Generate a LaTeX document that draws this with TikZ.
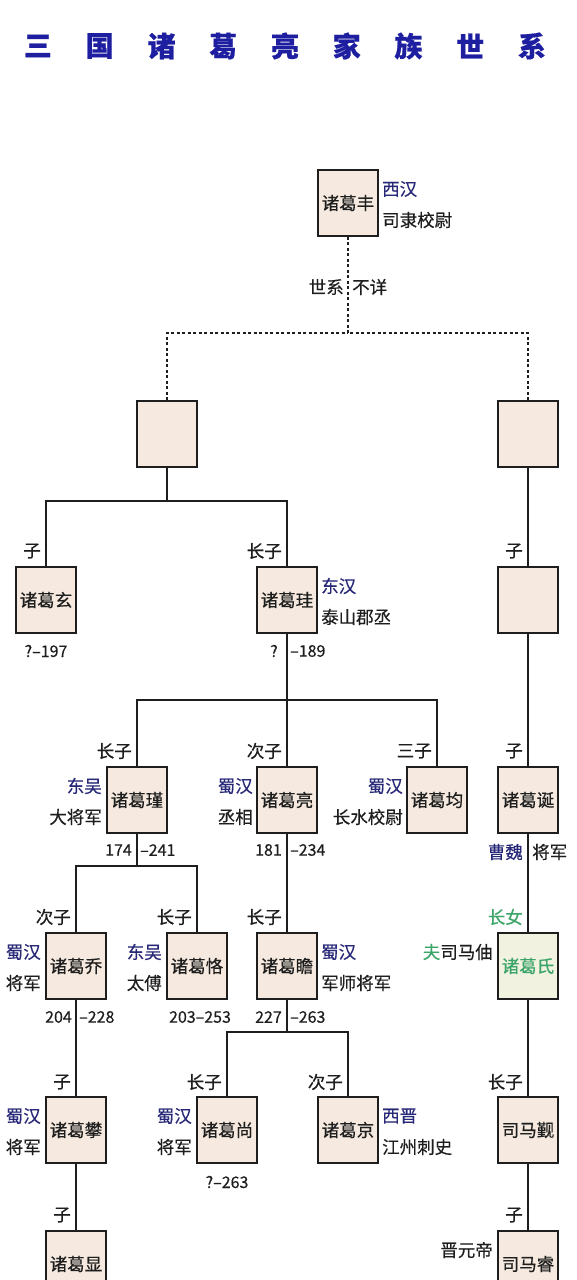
\documentclass[tikz,border=0pt]{standalone}
\usepackage{fontspec}
\newfontfamily\cjk[FakeBold=0.4]{Noto Sans CJK SC}
\usetikzlibrary{calc}
\definecolor{boxfill}{RGB}{246,234,224}
\definecolor{herfill}{RGB}{241,242,224}
\definecolor{lbl}{RGB}{40,40,120}
\definecolor{grn}{RGB}{60,165,105}
\definecolor{ttl}{RGB}{30,30,160}
\definecolor{ink}{RGB}{30,30,30}
\begin{document}
\begin{tikzpicture}[x=1pt,y=-1pt,
  person/.style={draw=ink, line width=1.7pt, fill=boxfill, minimum width=60pt, minimum height=66pt, inner sep=0pt, font=\cjk\fontsize{17.5}{20}\selectfont, text=ink},
  tag/.style={font=\cjk\fontsize{17.5}{20}\selectfont, text=ink, inner sep=0pt},
  dyn/.style={tag, text=lbl},
  num/.style={font=\cjk\fontsize{16}{18}\selectfont, text=ink, inner sep=0pt},
  link/.style={draw=ink, line width=1.6pt},
  dlink/.style={link, dash pattern=on 3pt off 2.5pt},
  ttlch/.style={font=\cjk\bfseries\fontsize{28}{30}\selectfont, text=ttl, inner sep=0pt}]
\useasboundingbox (0,0) rectangle (576,1280);
\clip (0,0) rectangle (576,1280);
\fill[white] (0,0) rectangle (576,1280);

% title
\foreach \c [count=\i from 0] in {三,国,诸,葛,亮,家,族,世,系}
  \node[ttlch] (t\i) at (38+\i*61.75,46) {\c};

% people
\node[person] (feng) at (348,203) {诸葛丰};
\node[person] (ua) at (167,434) {};
\node[person] (ub) at (528,434) {};
\node[person] (xuan) at (46,600) {诸葛玄};
\node[person] (gui) at (287,600) {诸葛珪};
\node[person] (uc) at (528,600) {};
\node[person] (jin) at (137,800) {诸葛瑾};
\node[person] (liang) at (287,800) {诸葛亮};
\node[person] (jun) at (437,800) {诸葛均};
\node[person] (dan) at (528,800) {诸葛诞};
\node[person] (qiao) at (76,966) {诸葛乔};
\node[person] (ke) at (197,966) {诸葛恪};
\node[person] (zhan) at (287,966) {诸葛瞻};
\node[person, fill=herfill, text=grn] (shi) at (528,966) {诸葛氏};
\node[person] (pan) at (76,1130) {诸葛攀};
\node[person] (shang) at (227,1130) {诸葛尚};
\node[person] (jing) at (348,1130) {诸葛京};
\node[person] (sjin) at (528,1130) {司马觐};
\node[person] (xian) at (76,1264) {诸葛显};
\node[person] (rui) at (528,1264) {司马睿};

% connectors
\coordinate (d0) at (348,333);
\draw[dlink] (feng.south) -- (d0);
\draw[dlink] (ua.north) |- (d0);
\draw[dlink] (ub.north) |- (d0);

\coordinate (b1) at (167,501);
\draw[link] (ua.south) -- (b1);
\draw[link] (xuan.north) |- (b1);
\draw[link] (gui.north) |- (b1);

\draw[link] (ub) -- (uc);
\draw[link] (uc) -- (dan);
\draw[link] (dan) -- (shi);
\draw[link] (shi) -- (sjin);
\draw[link] (sjin) -- (rui);

\coordinate (b2) at (287,700);
\draw[link] (gui.south) -- (b2);
\draw[link] (jin.north) |- (b2);
\draw[link] (liang.north) -- (b2);
\draw[link] (jun.north) |- (b2);

\coordinate (b3) at (137,866);
\draw[link] (jin.south) -- (b3);
\draw[link] (qiao.north) |- (b3);
\draw[link] (ke.north) |- (b3);

\draw[link] (liang) -- (zhan);

\coordinate (b4) at (287,1032);
\draw[link] (zhan.south) -- (b4);
\draw[link] (shang.north) |- (b4);
\draw[link] (jing.north) |- (b4);

\draw[link] (qiao) -- (pan);
\draw[link] (pan) -- (xian);

% lineage labels
\node[tag, anchor=east] (s1) at (344,287) {世系};
\node[tag, anchor=west] (s2) at (352,287) {不详};
\node[tag, anchor=east] (l1) at (41,551) {子};
\node[tag, anchor=east] (l2) at (282,551) {长子};
\node[tag, anchor=east] (l3) at (523,551) {子};
\node[tag, anchor=east] (l4) at (132,751) {长子};
\node[tag, anchor=east] (l5) at (282,751) {次子};
\node[tag, anchor=east] (l6) at (432,751) {三子};
\node[tag, anchor=east] (l7) at (523,751) {子};
\node[tag, anchor=east] (l8) at (71,917) {次子};
\node[tag, anchor=east] (l9) at (192,917) {长子};
\node[tag, anchor=east] (l10) at (282,917) {长子};
\node[tag, anchor=east, text=grn] (l11) at (523,917) {长女};
\node[tag, anchor=east] (l12) at (71,1082) {子};
\node[tag, anchor=east] (l13) at (222,1082) {长子};
\node[tag, anchor=east] (l14) at (343,1082) {次子};
\node[tag, anchor=east] (l15) at (523,1082) {长子};
\node[tag, anchor=east] (l16) at (71,1215) {子};
\node[tag, anchor=east] (l17) at (523,1215) {子};

% side labels
\node[dyn, anchor=west] (a1) at (382,189) {西汉};
\node[tag, anchor=west] (a2) at (382,220) {司隶校尉};
\node[dyn, anchor=west] (a3) at (321,586) {东汉};
\node[tag, anchor=west] (a4) at (321,617) {泰山郡丞};
\node[dyn, anchor=east] (a5) at (102,786) {东吴};
\node[tag, anchor=east] (a6) at (102,817) {大将军};
\node[dyn, anchor=east] (a7) at (253,786) {蜀汉};
\node[tag, anchor=east] (a8) at (253,817) {丞相};
\node[dyn, anchor=east] (a9) at (403,786) {蜀汉};
\node[tag, anchor=east] (a10) at (403,817) {长水校尉};
\node[dyn, anchor=east] (a11) at (41,952) {蜀汉};
\node[tag, anchor=east] (a12) at (41,983) {将军};
\node[dyn, anchor=east] (a13) at (162,952) {东吴};
\node[tag, anchor=east] (a14) at (162,983) {太傅};
\node[dyn, anchor=west] (a15) at (321,952) {蜀汉};
\node[tag, anchor=west] (a16) at (321,983) {军师将军};
\node[tag, anchor=east] (a17) at (493,952) {\textcolor{grn}{夫}司马伷};
\node[dyn, anchor=east] (a18) at (41,1116) {蜀汉};
\node[tag, anchor=east] (a19) at (41,1147) {将军};
\node[dyn, anchor=east] (a20) at (192,1116) {蜀汉};
\node[tag, anchor=east] (a21) at (192,1147) {将军};
\node[dyn, anchor=west] (a22) at (382,1116) {西晋};
\node[tag, anchor=west] (a23) at (382,1147) {江州刺史};
\node[tag, anchor=east] (a24) at (493,1250) {晋元帝};

% dates
\node[num] (n1) at (46,651) {?–197};
\node[num, anchor=east] (n2) at (278,651) {?};
\node[num, anchor=west] (n3) at (290,651) {–189};
\node[num, anchor=east] (n4) at (132,850) {174};
\node[num, anchor=west] (n5) at (140,850) {–241};
\node[num, anchor=east] (n6) at (282,850) {181};
\node[num, anchor=west] (n7) at (290,850) {–234};
\node[dyn, anchor=east] (n8) at (523,852) {曹魏};
\node[tag, anchor=west] (n9) at (532,852) {将军};
\node[num, anchor=east] (n10) at (72,1017) {204};
\node[num, anchor=west] (n11) at (79,1017) {–228};
\node[num] (n12) at (200,1017) {203–253};
\node[num, anchor=east] (n13) at (282,1017) {227};
\node[num, anchor=west] (n14) at (290,1017) {–263};
\node[num] (n15) at (227,1182) {?–263};
\end{tikzpicture}
\end{document}
